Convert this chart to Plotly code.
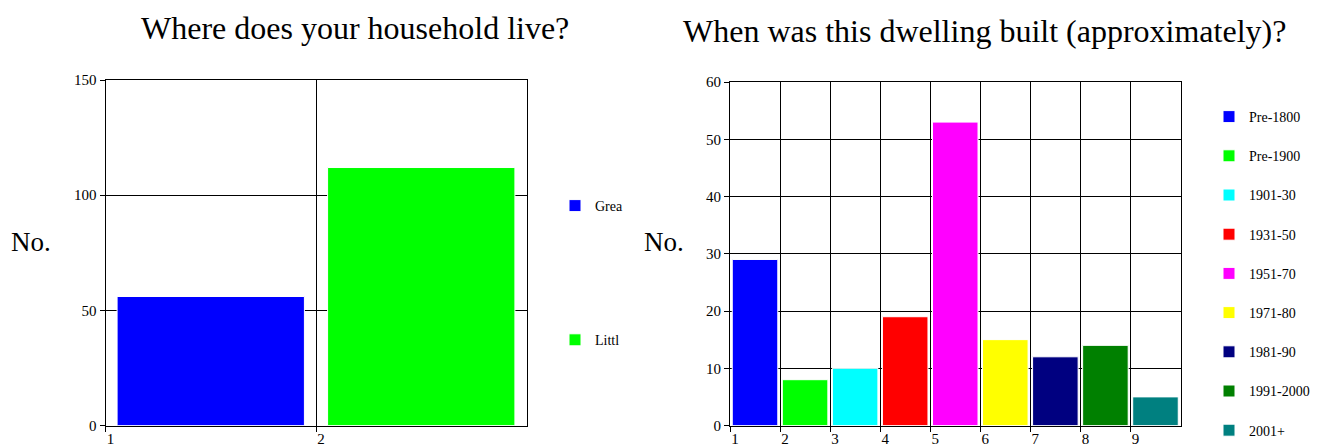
import plotly.graph_objects as go

# ---- data ----
left_title = "Where does your household live?"
left_names = ["Grea", "Littl"]
left_values = [56, 112]
left_colors = ["#0000FF", "#00FF00"]
left_yticks = [0, 50, 100, 150]

right_title = "When was this dwelling built (approximately)?"
right_names = ["Pre-1800", "Pre-1900", "1901-30", "1931-50", "1951-70",
               "1971-80", "1981-90", "1991-2000", "2001+"]
right_values = [29, 8, 10, 19, 53, 15, 12, 14, 5]
right_colors = ["#0000FF", "#00FF00", "#00FFFF", "#FF0000", "#FF00FF",
                "#FFFF00", "#000080", "#008000", "#008080"]
right_yticks = [0, 10, 20, 30, 40, 50, 60]

SERIF = "Liberation Serif, Times New Roman, serif"

fig = go.Figure()

for i, (n, v, c) in enumerate(zip(left_names, left_values, left_colors)):
    fig.add_trace(go.Bar(x=[i + 1.5], y=[v], width=0.89, name=n,
                         marker=dict(color=c, line=dict(color="white", width=1)),
                         xaxis="x", yaxis="y", legend="legend",
                         legendgroup="L%d" % i))

for i, (n, v, c) in enumerate(zip(right_names, right_values, right_colors)):
    fig.add_trace(go.Bar(x=[i + 1.5], y=[v], width=0.91, name=n,
                         marker=dict(color=c, line=dict(color="white", width=1)),
                         xaxis="x2", yaxis="y2", legend="legend2",
                         legendgroup="R%d" % i))

W, H = 1327, 447

def dom_x(a, b):
    return [a / W, b / W]

def dom_y(top, bottom):
    return [1 - bottom / H, 1 - top / H]

axis_common = dict(showline=True, mirror=True, linecolor="black", linewidth=1,
                   showgrid=True, gridcolor="black", gridwidth=1,
                   ticks="outside", ticklen=5, tickcolor="black",
                   tickfont=dict(family=SERIF, size=15, color="black"),
                   zeroline=False, automargin=False, fixedrange=True)

fig.update_layout(
    width=W, height=H,
    margin=dict(l=0, r=0, t=0, b=0),
    paper_bgcolor="white", plot_bgcolor="white",
    barmode="overlay",
    xaxis=dict(domain=dom_x(105.5, 526.5), range=[1, 3],
               tickvals=[1, 2], ticktext=["1", "2"], ticklabelshift=5,
               ticklabelstandoff=-6,
               anchor="y", **axis_common),
    yaxis=dict(domain=dom_y(80, 425.5), range=[0, 150],
               tickvals=left_yticks, anchor="x", **axis_common),
    xaxis2=dict(domain=dom_x(730, 1180.5), range=[1, 10],
                tickvals=list(range(1, 10)), ticklabelshift=5,
                ticklabelstandoff=-6,
                anchor="y2", **axis_common),
    yaxis2=dict(domain=dom_y(82, 425.5), range=[0, 60],
                tickvals=right_yticks, anchor="x2", **axis_common),
    legend=dict(x=555 / W, y=1 - 190 / H, xanchor="left", yanchor="top",
                font=dict(family=SERIF, size=14, color="black"),
                tracegroupgap=113, bgcolor="rgba(0,0,0,0)"),
    legend2=dict(x=1209 / W, y=1 - 101 / H, xanchor="left", yanchor="top",
                 font=dict(family=SERIF, size=14, color="black"),
                 tracegroupgap=18, bgcolor="rgba(0,0,0,0)"),
    annotations=[
        dict(text=left_title, x=355 / W, y=1 - 28 / H, xref="paper", yref="paper",
             showarrow=False, xanchor="center", yanchor="middle",
             font=dict(family=SERIF, size=32, color="black")),
        dict(text=right_title, x=985 / W, y=1 - 31 / H, xref="paper", yref="paper",
             showarrow=False, xanchor="center", yanchor="middle",
             font=dict(family=SERIF, size=32, color="black")),
        dict(text="No.", x=9 / W, y=1 - 242 / H, xref="paper", yref="paper",
             showarrow=False, xanchor="left", yanchor="middle",
             font=dict(family=SERIF, size=27, color="black")),
        dict(text="No.", x=642 / W, y=1 - 242 / H, xref="paper", yref="paper",
             showarrow=False, xanchor="left", yanchor="middle",
             font=dict(family=SERIF, size=27, color="black")),
    ],
)

fig.write_html("out.html", config={"displayModeBar": False},
               post_script="document.body.style.margin='0';document.body.style.padding='0';")
